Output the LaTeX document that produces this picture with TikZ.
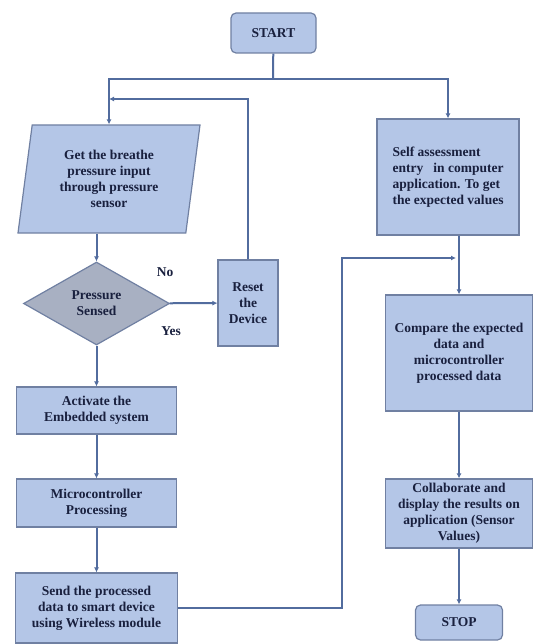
\documentclass[tikz,border=0pt]{standalone}
\usepackage{fontspec}
\setmainfont{Liberation Serif}
\usetikzlibrary{shapes.geometric,arrows.meta}
\definecolor{boxfill}{RGB}{180,198,231}
\definecolor{boxline}{RGB}{112,128,162}
\definecolor{flow}{RGB}{82,108,158}
\definecolor{decfill}{RGB}{168,176,194}
\definecolor{ink}{RGB}{25,32,62}

\begin{document}
\begin{tikzpicture}[x=1pt, y=-1pt]
\tikzstyle{every node} = [font=\bfseries\fontsize{13.5}{16}\selectfont, text=ink]
\tikzstyle{box} = [draw=boxline, line width=1.2pt, fill=boxfill, align=center, inner sep=2pt]
\tikzstyle{term} = [box, rounded corners=5pt]
\tikzstyle{io} = [box, trapezium, trapezium left angle=77, trapezium right angle=103, trapezium stretches body]
\tikzstyle{decide} = [box, diamond, aspect=1.8, inner sep=0pt, fill=decfill]
\tikzstyle{arr} = [draw=flow, line width=2pt, -{Latex[length=5pt,width=5pt]}]
\useasboundingbox (0,0) rectangle (532,644);
\node[term, minimum width=85, minimum height=40] (start) at (273.5,33) {START};
\node[io, minimum width=182, minimum height=108] (input) at (109,179) {Get the breathe\\pressure input\\through pressure\\sensor};
\node[decide, minimum width=146, minimum height=83] (sensed) at (96.5,303.5) {Pressure\\Sensed};
\node[box, minimum width=60, minimum height=86] (reset) at (248,303) {Reset\\the\\Device};
\node[box, minimum width=160, minimum height=47] (act) at (96.5,410.5) {Activate the\\Embedded system};
\node[box, minimum width=160, minimum height=48] (micro) at (96.5,503) {Microcontroller\\Processing};
\node[box, minimum width=162, minimum height=70] (send) at (96.5,608) {Send the processed\\data to smart device\\using Wireless module};
\node[box, align=left, minimum width=142, minimum height=116] (self) at (448,177) {Self assessment\\entry \ \ in computer\\application. To get\\the expected values};
\node[box, minimum width=147, minimum height=116] (compare) at (459,353) {Compare the expected\\data and\\microcontroller\\processed data};
\node[box, minimum width=147, minimum height=69] (collab) at (459,513.5) {Collaborate and\\display the results on\\application (Sensor\\Values)};
\node[term, minimum width=87, minimum height=35] (stop) at (459,622.5) {STOP};
\node (no) at (165,272) {No};
\node (yes) at (171,331) {Yes};
\coordinate (split) at (273,79);
\coordinate (back) at (109,99);
\coordinate (bend) at (342,258);
\coordinate (meet) at (456,258);
% branches
\draw[draw=flow, line width=2pt] (start) -- (split);
\draw[arr] (split) -| (input.north);
\draw[arr] (split) -| (self.north);
\draw[arr] (reset.north) |- (back);
\draw[arr] (send.east) -| (bend) -- (meet);
\draw[arr] (sensed.north |- input.south) -- (sensed.north);
\draw[arr] (self.south -| compare.north) -- (compare.north);
\foreach \from/\to in {sensed/reset, sensed/act, act/micro, micro/send, compare/collab, collab/stop}
\draw[arr] (\from) -- (\to);
\end{tikzpicture}
\end{document}
